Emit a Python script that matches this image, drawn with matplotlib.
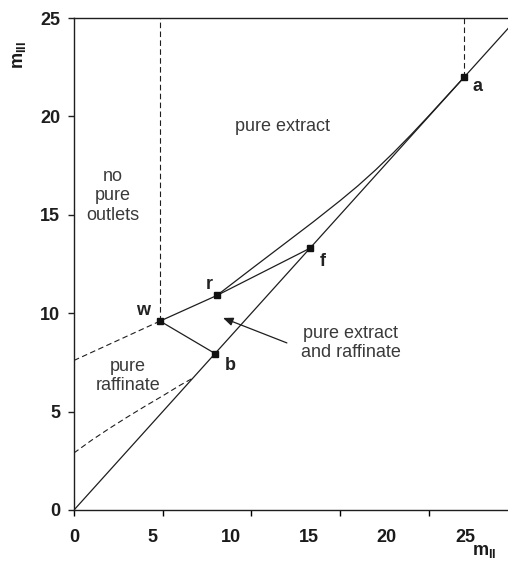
import matplotlib
matplotlib.use("Agg")
import matplotlib.pyplot as plt
import numpy as np

plt.rcParams["font.family"] = ["Liberation Sans", "DejaVu Sans"]
plt.rcParams["mathtext.fontset"] = "custom"
plt.rcParams["mathtext.rm"] = "Liberation Sans"
plt.rcParams["mathtext.bf"] = "Liberation Sans:bold"

# Operating points (m_II, m_III)
point_names = ["w", "r", "f", "a", "b"]
point_x = [4.85, 8.05, 13.3, 22.0, 7.95]
point_y = [9.6, 10.9, 13.3, 22.0, 7.95]

# Upper boundary of the complete-separation region, from r to a
upper_x = [8.05, 10.0, 12.0, 13.5, 15.0, 16.0, 17.0, 18.0, 19.0, 20.0, 22.0]
upper_y = [10.9, 12.25, 13.62, 14.65, 15.72, 16.47, 17.28, 18.15, 19.07, 20.03, 22.0]

# Lower dashed boundary of the pure raffinate region
lower_x = [0.0, 1.0, 2.0, 3.0, 4.0, 5.0, 6.0, 6.7]
lower_y = [2.9, 3.55, 4.15, 4.72, 5.27, 5.8, 6.35, 6.7]

# Intercept of the w-r line on the m_III axis
wr_intercept = 7.6

x_ticks = [0, 5, 10, 15, 20]
x_tick_labels = ["0", "5", "10", "15", "20", "25"]
y_ticks = [0, 5, 10, 15, 20, 25]

ink = "#1e1e1e"
txt = "#3a3a3a"

fig = plt.figure(figsize=(5.08, 5.67), dpi=100)
ax = fig.add_axes([74 / 508, 57 / 567, 434 / 508, 492 / 567])
ax.set_xlim(0, 434 / 17.74)
ax.set_ylim(0, 25)

P = dict(zip(point_names, zip(point_x, point_y)))

# diagonal m_III = m_II
diag = np.array([0, 26.0])
ax.plot(diag, diag, color=ink, lw=0.9, clip_on=True)

# w-r line, w-b line, r-f line and the r-a boundary
ax.plot([P["w"][0], P["r"][0]], [P["w"][1], P["r"][1]], color=ink, lw=0.9)
ax.plot([P["w"][0], P["b"][0]], [P["w"][1], P["b"][1]], color=ink, lw=0.9)
ax.plot([P["r"][0], P["f"][0]], [P["r"][1], P["f"][1]], color=ink, lw=0.9)
ax.plot(upper_x, upper_y, color=ink, lw=0.9)

# dashed boundaries
dash = dict(color=ink, lw=0.8, linestyle=(0, (5, 3)))
ax.plot([P["w"][0], P["w"][0]], [P["w"][1], 25], **dash)
ax.plot([P["a"][0], P["a"][0]], [P["a"][1], 25], **dash)
ax.plot([0, P["w"][0]], [wr_intercept, P["w"][1]], **dash)
ax.plot(lower_x, lower_y, **dash)

# points
ax.plot(point_x, point_y, "s", color="#111111", ms=4, zorder=5)

label_pos = {
    "w": (3.89, 10.12),
    "r": (7.61, 11.44),
    "f": (14.02, 12.62),
    "a": (22.72, 21.5),
    "b": (8.79, 7.32),
}
for n in point_names:
    ax.text(*label_pos[n], n, fontsize=13, fontweight="bold", color="#222222",
            ha="center", va="center")

# region texts
ax.text(11.78, 19.47, "pure extract", fontsize=13, color=txt, ha="center", va="center")
ax.text(2.2, 15.96, "no\npure\noutlets", fontsize=13, color=txt, ha="center",
        va="center", linespacing=1.2)
ax.text(3.04, 6.81, "pure\nraffinate", fontsize=13, color=txt, ha="center",
        va="center", linespacing=1.15)
ax.text(15.6, 8.49, "pure extract\nand raffinate", fontsize=13, color=txt,
        ha="center", va="center", linespacing=1.15)
ax.annotate("", xy=(8.4, 9.76), xytext=(12.0, 8.49),
            arrowprops=dict(arrowstyle="-|>,head_length=0.6,head_width=0.25",
                            color=ink, lw=0.9, shrinkA=0, shrinkB=0))

# spines
for s in ["left", "bottom", "top"]:
    ax.spines[s].set_color(ink)
    ax.spines[s].set_linewidth(1.0)
ax.spines["right"].set_visible(False)

# y axis ticks
ax.set_yticks(y_ticks)
ax.set_yticklabels([str(v) for v in y_ticks], fontsize=13, fontweight="bold", color="#1a1a1a")
ax.tick_params(axis="y", direction="out", length=4, width=1, pad=6, colors=ink)

# x axis: tick marks at the major positions, labels set on a compressed scale
ax.xaxis.remove_overlapping_locs = False
ax.set_xticks(x_ticks)
ax.set_xticklabels([])
label_scale = 0.882
ax.set_xticks([int(t) * label_scale for t in x_tick_labels], minor=True)
ax.set_xticklabels(x_tick_labels, minor=True, fontsize=13, fontweight="bold",
                   color="#1a1a1a")
ax.tick_params(axis="x", which="major", direction="out", length=4, width=1)
ax.tick_params(axis="x", which="minor", length=0, pad=14)
ax.tick_params(top=False, right=False)

# axis titles
fig.text(19 / 508, 1 - 55 / 567, r"$\mathbf{m}_{\mathbf{III}}$", fontsize=13,
         rotation=90, ha="center", va="center", color="#1a1a1a")
fig.text(484 / 508, 1 - 551 / 567, r"$\mathbf{m}_{\mathbf{II}}$", fontsize=13,
         ha="center", va="center", color="#1a1a1a")

fig.savefig("out.png", dpi=100)
